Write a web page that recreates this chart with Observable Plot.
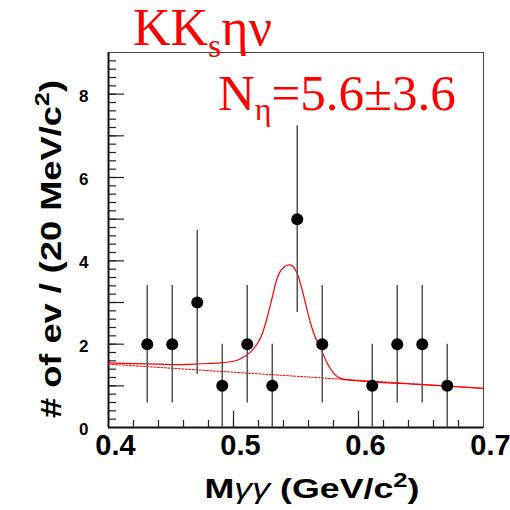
<!DOCTYPE html>
<html>
<head>
<meta charset="utf-8">
<script src="https://cdn.jsdelivr.net/npm/d3@7"></script>
<script src="https://cdn.jsdelivr.net/npm/@observablehq/plot@0.6"></script>
<style>
  body { margin: 0; background: #fff; }
  #chart { width: 510px; height: 510px; }
</style>
</head>
<body>
<div id="chart"></div>
<script>
// Mγγ bin centres (GeV/c²), events per 20 MeV/c² bin, and their errors
const binCenters = [0.431, 0.451, 0.471, 0.491, 0.511, 0.531, 0.551, 0.571, 0.611, 0.631, 0.651, 0.671];
const counts     = [2, 2, 3, 1, 2, 1, 5, 2, 1, 2, 2, 1];
const countErrs  = [1.41, 1.41, 1.73, 1.0, 1.41, 1.0, 2.24, 1.41, 1.0, 1.41, 1.41, 1.0];

// fitted total (η signal + linear background)
const fitMass  = [0.400, 0.420, 0.440, 0.460, 0.4736, 0.4896, 0.500, 0.5056, 0.5136, 0.519, 0.523, 0.527,
                  0.531, 0.535, 0.539, 0.5434, 0.547, 0.551, 0.555, 0.559, 0.563, 0.567, 0.571, 0.575,
                  0.5802, 0.5856, 0.600, 0.650, 0.700];
const fitTotal = [1.55, 1.535, 1.52, 1.51, 1.53, 1.55, 1.59, 1.65, 1.81, 2.01, 2.25, 2.65,
                  3.12, 3.59, 3.81, 3.90, 3.88, 3.69, 3.29, 2.81, 2.37, 2.05, 1.81, 1.54,
                  1.30, 1.18, 1.12, 1.03, 0.94];

// background component of the fit
const bkgMass  = [0.400, 0.700];
const bkgLevel = [1.52, 0.94];

// axis tick labels
const xTickLabels = [0.4, 0.5, 0.6, 0.7];
const yTickLabels = [0, 2, 4, 6, 8];

const points = binCenters.map((m, i) => ({m, n: counts[i], e: countErrs[i]}));
const fit = fitMass.map((m, i) => ({m, v: fitTotal[i]}));
const bkg = bkgMass.map((m, i) => ({m, v: bkgLevel[i]}));

// ROOT-style tick grid: x minor every 0.02, major every 0.1; y minor every 0.2, major every 1
const xMinor = d3.range(21, 35).map(k => k / 50);
const xMajor = [0.5, 0.6];
const yMinor = d3.range(1, 45).map(k => k / 5);
const yMajor = d3.range(1, 9);

const frameW = 375, frameH = 375;
const sans = "'Liberation Sans', Arial, Helvetica, sans-serif";
const serif = "'Liberation Serif', 'Times New Roman', serif";

const chart = Plot.plot({
  width: 510,
  height: 510,
  marginLeft: 108,
  marginRight: 27,
  marginTop: 52,
  marginBottom: 83,
  x: {domain: [0.4, 0.7], axis: null},
  y: {domain: [0, 9], axis: null},
  style: {background: "white", overflow: "visible"},
  marks: [
    Plot.frame({stroke: "#444", strokeWidth: 1}),
    Plot.tickX(xMinor, {x: d => d, stroke: "#222", strokeWidth: 1.2, insetTop: frameH - 7}),
    Plot.tickX(xMajor, {x: d => d, stroke: "#222", strokeWidth: 1.2, insetTop: frameH - 16}),
    Plot.tickY(yMinor, {y: d => d, stroke: "#222", strokeWidth: 1.2, insetRight: frameW - 8}),
    Plot.tickY(yMajor, {y: d => d, stroke: "#222", strokeWidth: 1.2, insetRight: frameW - 16}),
    Plot.ruleX([0.4], {stroke: "#111", strokeWidth: 2}),
    Plot.ruleY([0], {stroke: "#111", strokeWidth: 2}),
    Plot.line(bkg, {x: "m", y: "v", stroke: "red", strokeWidth: 1, strokeDasharray: "2,1.5"}),
    Plot.line(fit, {x: "m", y: "v", stroke: "red", strokeWidth: 1.2, curve: "catmull-rom"}),
    Plot.ruleX(points, {x: "m", y1: d => d.n - d.e, y2: d => d.n + d.e, stroke: "#555", strokeWidth: 1.5}),
    Plot.dot(points, {x: "m", y: "n", r: 6, fill: "black", stroke: "none"}),
    Plot.text(xTickLabels, {
      x: d => d, text: d => d.toFixed(1), frameAnchor: "bottom", dy: 27, dx: 7,
      fontSize: 29, fontWeight: "bold", fontFamily: sans, fill: "black", ariaLabel: "x-tick-label"
    }),
    Plot.text(yTickLabels, {
      y: d => d, text: d => String(d), frameAnchor: "left", textAnchor: "end", dx: -20, dy: 2,
      fontSize: 17, fontWeight: "bold", fontFamily: sans, fill: "black"
    })
  ]
});

document.getElementById("chart").appendChild(chart);

// condensed x tick labels
chart.querySelectorAll('g[aria-label="x-tick-label"] text').forEach(t => {
  t.setAttribute("textLength", "32");
  t.setAttribute("lengthAdjust", "spacingAndGlyphs");
});

const svg = d3.select(chart);

// y-axis title
const yt = svg.append("text")
  .attr("transform", "translate(61,249) rotate(-90)")
  .attr("text-anchor", "middle")
  .attr("font-family", sans).attr("font-weight", "bold").attr("font-size", 30)
  .attr("textLength", 338).attr("lengthAdjust", "spacingAndGlyphs")
  .attr("fill", "black");
yt.append("tspan").text("# of ev / (20 MeV/c");
yt.append("tspan").attr("font-size", 21).attr("dy", -12).text("2");
yt.append("tspan").attr("dy", 12).text(")");

// x-axis title
const xt = svg.append("text")
  .attr("x", 312).attr("y", 498)
  .attr("text-anchor", "middle")
  .attr("font-family", sans).attr("font-weight", "bold").attr("font-size", 28)
  .attr("textLength", 215).attr("lengthAdjust", "spacingAndGlyphs")
  .attr("fill", "black");
xt.append("tspan").text("M");
xt.append("tspan").attr("font-weight", "normal").attr("font-style", "italic").text("γγ");
xt.append("tspan").text(" (GeV/c");
xt.append("tspan").attr("font-size", 20).attr("dy", -11).text("2");
xt.append("tspan").attr("dy", 11).text(")");

// decay channel label
const t1 = svg.append("text")
  .attr("x", 133).attr("y", 45)
  .attr("text-anchor", "start")
  .attr("font-family", serif).attr("font-size", 52).attr("fill", "red");
t1.append("tspan").text("KK");
t1.append("tspan").attr("font-size", 34).attr("dy", 12).text("s");
t1.append("tspan").attr("dy", -12).text("ην");

// fitted η yield
const t2 = svg.append("text")
  .attr("x", 218).attr("y", 110)
  .attr("text-anchor", "start")
  .attr("font-family", serif).attr("font-size", 51).attr("fill", "red");
t2.append("tspan").text("N");
t2.append("tspan").attr("font-size", 32).attr("dy", 10).text("η");
t2.append("tspan").attr("dy", -10).text("=5.6±3.6");
</script>
</body>
</html>
